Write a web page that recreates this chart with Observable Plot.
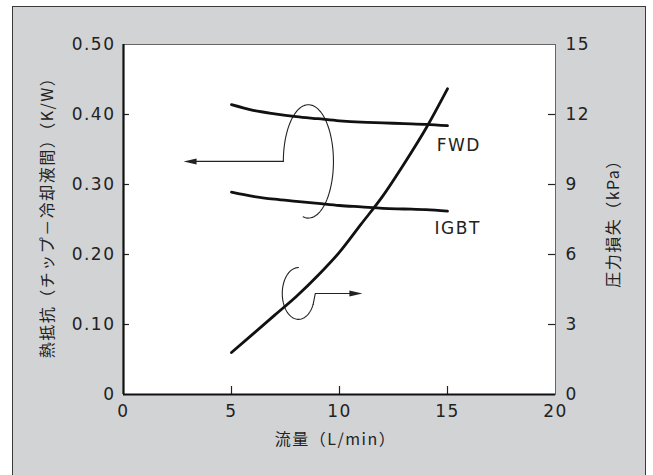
<!DOCTYPE html>
<html><head><meta charset="utf-8">
<script src="https://cdn.jsdelivr.net/npm/d3@7"></script>
<script src="https://cdn.jsdelivr.net/npm/@observablehq/plot@0.6"></script>
<style>
body{margin:0;background:#fff;}
#wrap{position:relative;width:653px;height:475px;overflow:hidden;}
#bg{position:absolute;left:12px;top:6px;width:632px;height:500px;background:#d2d3d5;border:1px solid #3a3a3a;}
#chart{position:absolute;left:0;top:0;}
#chart svg text{letter-spacing:1.5px;}
</style></head><body>
<div id="wrap"><div id="bg"></div><div id="chart"></div></div>
<script>
// flow rate (L/min)
const flow = [5, 6, 7, 8, 9, 10, 11, 12, 13, 14, 15];
// thermal resistance (K/W), left axis
const fwd  = [0.414, 0.406, 0.401, 0.397, 0.394, 0.391, 0.389, 0.388, 0.387, 0.386, 0.384];
const igbt = [0.289, 0.283, 0.279, 0.276, 0.273, 0.270, 0.268, 0.266, 0.265, 0.264, 0.262];
// pressure loss (kPa), right axis
const pressure = [1.8, 2.6, 3.4, 4.2, 5.1, 6.1, 7.3, 8.5, 9.9, 11.4, 13.1];

const xTicks = [0, 5, 10, 15, 20];
const yTicks = [0, 0.1, 0.2, 0.3, 0.4, 0.5];       // K/W
const kPaPerKW = 30;                               // right axis: 0–15 kPa ↔ 0–0.5 K/W
const xTitle = "流量（L/min）";
const yTitle = "熱抵抗（チップ－冷却液間）（K/W）";
const y2Title = "圧力損失（kPa）";
const seriesLabels = [
  {name: "FWD",  x: 14.5, y: 0.356},
  {name: "IGBT", x: 14.4, y: 0.237}
];
// annotation loops (data units) + arrows
const loopLeft  = {cx: 8.56, cy: 0.333, rx: 1.16, ry: 0.081, a0: 180, a1: -102, tip: 2.78};
const loopRight = {cx: 8.10, cy: 4.33,  rx: 0.75, ry: 1.11,  a0: 90,  a1: 335, hook: 8.88, tip: 11.06};

const thermal = [
  ...flow.map((f, i) => ({flow: f, v: fwd[i], s: "FWD"})),
  ...flow.map((f, i) => ({flow: f, v: igbt[i], s: "IGBT"}))
];
const press = flow.map((f, i) => ({flow: f, v: pressure[i] / kPaPerKW}));

function arc(c, ky, a0, a1) {
  const pts = [];
  const n = 80;
  for (let i = 0; i <= n; i++) {
    const a = (a0 + (a1 - a0) * i / n) * Math.PI / 180;
    pts.push({x: c.cx + c.rx * Math.cos(a), y: (c.cy + c.ry * Math.sin(a)) * ky});
  }
  return pts;
}
const loop1 = arc(loopLeft, 1, loopLeft.a0, loopLeft.a1);
const conn1 = [{x: loopLeft.cx - loopLeft.rx, y: loopLeft.cy}, {x: loopLeft.tip + 0.4, y: loopLeft.cy}];
const k2 = 1 / kPaPerKW;
const loop2 = arc(loopRight, k2, loopRight.a0, loopRight.a1);
const lastPt = loop2[loop2.length - 1];
const conn2 = [lastPt, {x: loopRight.hook, y: loopRight.cy * k2}, {x: loopRight.tip - 0.4, y: loopRight.cy * k2}];

const headShape = {draw(ctx, l) { ctx.moveTo(0, -l); ctx.lineTo(3, 0); ctx.lineTo(-3, 0); ctx.closePath(); }};

const W = 653, H = 475, mL = 123, mR = 98, mT = 44, mB = 81;
const pw = W - mL - mR, ph = H - mT - mB;
const font = "'DejaVu Sans', 'Noto Sans CJK JP', sans-serif";
const jfont = "'Noto Sans CJK JP', 'DejaVu Sans', sans-serif";

const chart = Plot.plot({
  width: W, height: H,
  marginLeft: mL, marginRight: mR, marginTop: mT, marginBottom: mB,
  style: {background: "transparent", fontFamily: font, fontSize: "17px", color: "#222"},
  x: {domain: [0, 20]},
  y: {domain: [0, 0.5]},
  marks: [
    Plot.frame({fill: "white", stroke: "#666", strokeWidth: 1}),
    // inward ticks
    Plot.ruleY(yTicks.slice(1, -1), {insetRight: pw - 6, stroke: "#222", strokeWidth: 1.2}),
    Plot.ruleY(yTicks.slice(1, -1), {insetLeft: pw - 7, stroke: "#222", strokeWidth: 1.2}),
    Plot.ruleX(xTicks.slice(1, -1), {insetTop: ph - 8, stroke: "#222", strokeWidth: 1.2}),
    // tick labels
    Plot.axisY({anchor: "left", ticks: yTicks, tickSize: 0, tickPadding: 8, label: null,
      tickFormat: d => d === 0 ? "0" : d.toFixed(2), fill: "#222"}),
    Plot.axisY({anchor: "right", ticks: yTicks, tickSize: 0, tickPadding: 10, label: null,
      tickFormat: d => String(Math.round(d * kPaPerKW)), fill: "#222"}),
    Plot.axisX({anchor: "bottom", ticks: xTicks, tickSize: 0, tickPadding: 10, label: null,
      tickFormat: d => String(d), fill: "#222"}),
    // annotation loops and arrows
    Plot.line(loop1, {x: "x", y: "y", stroke: "#222", strokeWidth: 1.1, curve: "linear"}),
    Plot.line(conn1, {x: "x", y: "y", stroke: "#222", strokeWidth: 1.1}),
    Plot.vector([{x: loopLeft.tip, y: loopLeft.cy}], {x: "x", y: "y", length: 13, rotate: -90, anchor: "end",
      shape: headShape, fill: "#222", stroke: "none"}),
    Plot.line(loop2, {x: "x", y: "y", stroke: "#222", strokeWidth: 1.1}),
    Plot.line(conn2, {x: "x", y: "y", stroke: "#222", strokeWidth: 1.1}),
    Plot.vector([{x: loopRight.tip, y: loopRight.cy * k2}], {x: "x", y: "y", length: 13, rotate: 90, anchor: "end",
      shape: headShape, fill: "#222", stroke: "none"}),
    // data
    Plot.line(thermal, {x: "flow", y: "v", z: "s", stroke: "#111", strokeWidth: 2.8, curve: "monotone-x"}),
    Plot.line(press, {x: "flow", y: "v", stroke: "#111", strokeWidth: 2.8, curve: "monotone-x"}),
    Plot.text(seriesLabels, {x: "x", y: "y", text: "name", textAnchor: "start", fontSize: 17, fill: "#222"}),
    // axes lines (left & bottom heavy)
    Plot.ruleX([0], {stroke: "#111", strokeWidth: 2.2}),
    Plot.ruleY([0], {stroke: "#111", strokeWidth: 2.2}),
    // axis titles
    Plot.text([xTitle], {frameAnchor: "bottom", textAnchor: "middle", dy: 50, dx: -4, fontSize: 16, fontFamily: jfont, fill: "#222"}),
    Plot.text([yTitle], {frameAnchor: "left", textAnchor: "middle", dx: -76, dy: -6, rotate: -90, fontSize: 16, fontFamily: jfont, fill: "#222"}),
    Plot.text([y2Title], {frameAnchor: "right", textAnchor: "middle", dx: 58, rotate: -90, fontSize: 16, fontFamily: jfont, fill: "#222"})
  ]
});
document.getElementById("chart").appendChild(chart);
</script>
</body></html>
